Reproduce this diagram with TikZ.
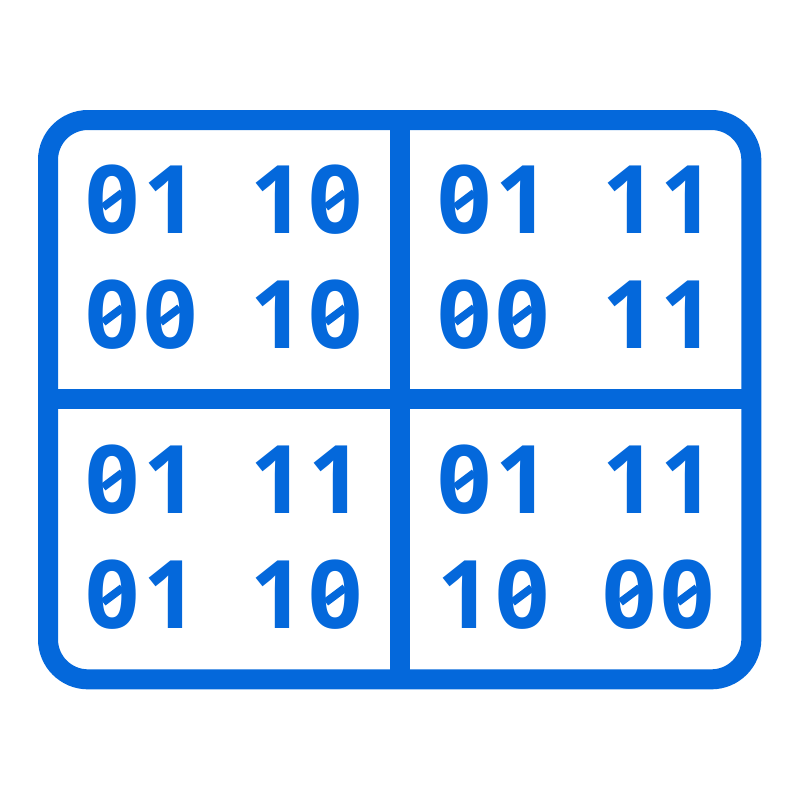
\documentclass[tikz,border=0pt]{standalone}
\usepackage{fontspec}
\newfontfamily\digitfont[LetterSpace=4.5]{Open Sans Bold}
\definecolor{blu}{HTML}{0468DB}
\tikzset{digits/.style={text=blu,font=\digitfont\fontsize{71pt}{71pt}\selectfont,inner sep=0pt,anchor=center},
frame/.style={draw=blu,line width=15pt},
zeroslash/.style={draw=blu,line width=6pt}}
\newcommand{\zslash}[2]{\draw[zeroslash] ({#1-7.2},{#2+5.4}) -- ({#1+7.2},{#2-5.4});}
\begin{document}
\begin{tikzpicture}[x=1pt,y=-1pt]
\useasboundingbox (0,0) rectangle (600,600);
\draw[frame,rounded corners=30pt] (36,90) rectangle (563.5,509.5);
\draw[frame] (299.8,90) -- (299.8,509.5);
\draw[frame] (36,299.5) -- (563.5,299.5);
\foreach \n/\x/\y/\p/\q in {a/106/150/0/1,b/230/150/1/0,c/106/236.3/0/0,d/230/236.3/1/0,
e/370/150/0/1,f/494/150/1/1,g/370/236.3/0/0,h/494/236.3/1/1,
i/106/360/0/1,j/230/360/1/1,k/106/446.3/0/1,l/230/446.3/1/0,
m/370/360/0/1,n/494/360/1/1,o/370/446.3/1/0,p/494/446.3/0/0}{
\node[digits] (\n) at (\x,\y) {\p\q};
\ifnum\p=0 \zslash{\x-21.5}{\y}\fi
\ifnum\q=0 \zslash{\x+21.5}{\y}\fi
}
\end{tikzpicture}
\end{document}
